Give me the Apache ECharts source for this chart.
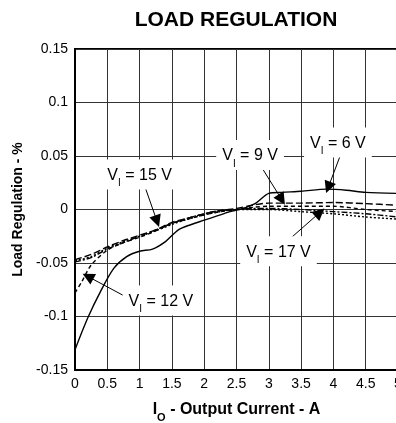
<!DOCTYPE html>
<html>
<head>
<meta charset="utf-8">
<script src="https://cdn.jsdelivr.net/npm/echarts@6/dist/echarts.min.js"></script>
<style>
  html, body { margin: 0; padding: 0; background: #fff; overflow: hidden; }
  #chart { width: 396px; height: 423px; }
</style>
</head>
<body>
<div id="chart"></div>
<script>
// Output current (A) sample points for each curve
const current6V  = [0, 0.2, 0.4, 0.6, 0.8, 1.0, 1.2, 1.4, 1.6, 1.8, 2.0, 2.2, 2.4, 2.6, 2.8, 3.0, 3.2, 3.5, 3.9, 4.2, 4.5, 5.0];
const reg6V      = [-0.131, -0.101, -0.076, -0.055, -0.044, -0.039, -0.037, -0.030, -0.019, -0.014, -0.010, -0.006, -0.002, 0.001, 0.006, 0.015, 0.016, 0.017, 0.019, 0.018, 0.016, 0.015];

const currentLow = [0, 0.25, 0.5, 0.75, 1.0, 1.25, 1.5, 1.75, 2.0, 2.25, 2.5, 2.75, 3.0, 3.5, 4.0, 4.5, 5.0];
const reg9V      = [-0.047, -0.042, -0.035, -0.029, -0.024, -0.019, -0.012, -0.008, -0.004, -0.001, 0.001, 0.004, 0.006, 0.006, 0.0065, 0.0055, 0.004];
const reg15V     = [-0.049, -0.045, -0.037, -0.031, -0.025, -0.019, -0.013, -0.008, -0.004, -0.001, 0.000, 0.001, 0.001, 0.000, -0.002, -0.004, -0.007];
const reg17V     = [-0.048, -0.044, -0.036, -0.030, -0.025, -0.020, -0.014, -0.009, -0.005, -0.002, 0.000, 0.000, 0.000, -0.002, -0.004, -0.007, -0.009];

const current12V = [0, 0.1, 0.25, 0.5, 0.75, 1.0, 1.25, 1.5, 1.75, 2.0, 2.25, 2.5, 2.75, 3.0, 3.5, 4.0, 4.5, 5.0];
const reg12V     = [-0.078, -0.068, -0.052, -0.038, -0.031, -0.026, -0.020, -0.013, -0.009, -0.005, -0.002, 0.000, 0.002, 0.003, 0.003, 0.003, 0.000, -0.002];

const yTickLabels = ['-0.15', '-0.1', '-0.05', '0', '0.05', '0.1', '0.15'];
const xTickLabels = ['0', '0.5', '1', '1.5', '2', '2.5', '3', '3.5', '4', '4.5', '5'];

const FONT = 'Liberation Sans, Arial, sans-serif';

function pairs(xs, ys) { return xs.map((x, i) => [x, ys[i]]); }

function curve(name, xs, ys, type) {
  return {
    name: name,
    type: 'line',
    data: pairs(xs, ys),
    smooth: 0.3,
    showSymbol: false,
    symbol: 'none',
    lineStyle: { color: '#000', width: 1.4, type: type },
    z: 3
  };
}

// Rich-text label "V_I = n V"
function vLabel(v) { return '{a|V}{s|I}{a| = ' + v + ' V}'; }

const labelRich = {
  a: { fontFamily: FONT, fontSize: 16, color: '#000', verticalAlign: 'bottom', lineHeight: 18 },
  s: { fontFamily: FONT, fontSize: 10, color: '#000', verticalAlign: 'bottom', lineHeight: 18, padding: [0, 0, -5, 0] }
};

function note(text, at) {
  return {
    coord: at,
    symbol: 'rect',
    symbolSize: 0,
    label: {
      show: true,
      position: 'inside',
      formatter: text,
      backgroundColor: '#fff',
      padding: [6, 6, 6, 6],
      rich: labelRich
    }
  };
}

function arrow(from, to) {
  return [{ coord: from }, { coord: to }];
}

const chart = echarts.init(document.getElementById('chart'), null, { renderer: 'canvas' });

chart.setOption({
  animation: false,
  backgroundColor: '#fff',
  title: {
    text: 'LOAD REGULATION',
    left: 231,
    textAlign: 'center',
    top: 5,
    textStyle: { fontFamily: FONT, fontSize: 21, fontWeight: 'bold', color: '#000' }
  },
  grid: {
    left: 75, top: 49, width: 323, height: 321,
    containLabel: false,
    outerBoundsMode: 'none',
    show: true, borderColor: '#000', borderWidth: 2, backgroundColor: 'transparent'
  },
  xAxis: {
    type: 'value',
    min: 0, max: 5, interval: 0.5,
    name: '{b|I}{o|O}{b| - Output Current - A}',
    nameLocation: 'middle',
    nameGap: 30,
    nameTextStyle: {
      rich: {
        b: { fontFamily: FONT, fontSize: 16, fontWeight: 'bold', color: '#000', verticalAlign: 'bottom', lineHeight: 18 },
        o: { fontFamily: FONT, fontSize: 11, fontWeight: 'bold', color: '#000', verticalAlign: 'bottom', lineHeight: 18, padding: [0, 0, -5, 0] }
      }
    },
    axisLine: { onZero: false, lineStyle: { color: '#000', width: 2 } },
    axisTick: { show: false },
    axisLabel: {
      color: '#000', fontFamily: FONT, fontSize: 14, margin: 7,
      formatter: (v) => xTickLabels[Math.round(v / 0.5)]
    },
    splitLine: { show: true, lineStyle: { color: '#333', width: 1 } }
  },
  yAxis: {
    type: 'value',
    min: -0.15, max: 0.15, interval: 0.05,
    name: 'Load Regulation - %',
    nameLocation: 'middle',
    nameGap: 50,
    nameTextStyle: { fontFamily: FONT, fontSize: 14, fontWeight: 'bold', color: '#000' },
    axisLine: { onZero: false, lineStyle: { color: '#000', width: 2 } },
    axisTick: { show: false },
    axisLabel: {
      color: '#000', fontFamily: FONT, fontSize: 14, margin: 7,
      formatter: (v) => yTickLabels[Math.round((v + 0.15) / 0.05)]
    },
    splitLine: { show: true, lineStyle: { color: '#333', width: 1 } }
  },
  series: [
    curve('VI = 6 V', current6V, reg6V, 'solid'),
    curve('VI = 9 V', currentLow, reg9V, [7, 3]),
    curve('VI = 12 V', current12V, reg12V, [4, 3]),
    curve('VI = 15 V', currentLow, reg15V, [6, 2, 2, 2]),
    curve('VI = 17 V', currentLow, reg17V, [2, 2]),
    {
      name: 'notes',
      type: 'line',
      data: [],
      z: 5,
      markLine: {
        silent: true,
        animation: false,
        symbol: ['none', 'triangle'],
        symbolSize: 12,
        label: { show: false },
        itemStyle: { color: '#000' },
        lineStyle: { color: '#000', width: 1, type: 'solid' },
        emphasis: { disabled: true },
        data: [
          arrow([1.06, 0.0252], [1.27, -0.011]),
          arrow([2.91, 0.0374], [3.2, 0.0093]),
          arrow([4.13, 0.0542], [3.92, 0.0206]),
          arrow([3.28, -0.0299], [3.79, -0.0028]),
          arrow([0.8, -0.082], [0.2, -0.0626])
        ]
      },
      markPoint: {
        silent: true,
        animation: false,
        data: [
          note(vLabel(15), [1.0, 0.0327]),
          note(vLabel(9), [2.71, 0.051]),
          note(vLabel(6), [4.07, 0.0626]),
          note(vLabel(17), [3.15, -0.039]),
          note(vLabel(12), [1.33, -0.085])
        ]
      }
    }
  ]
});
</script>
</body>
</html>
